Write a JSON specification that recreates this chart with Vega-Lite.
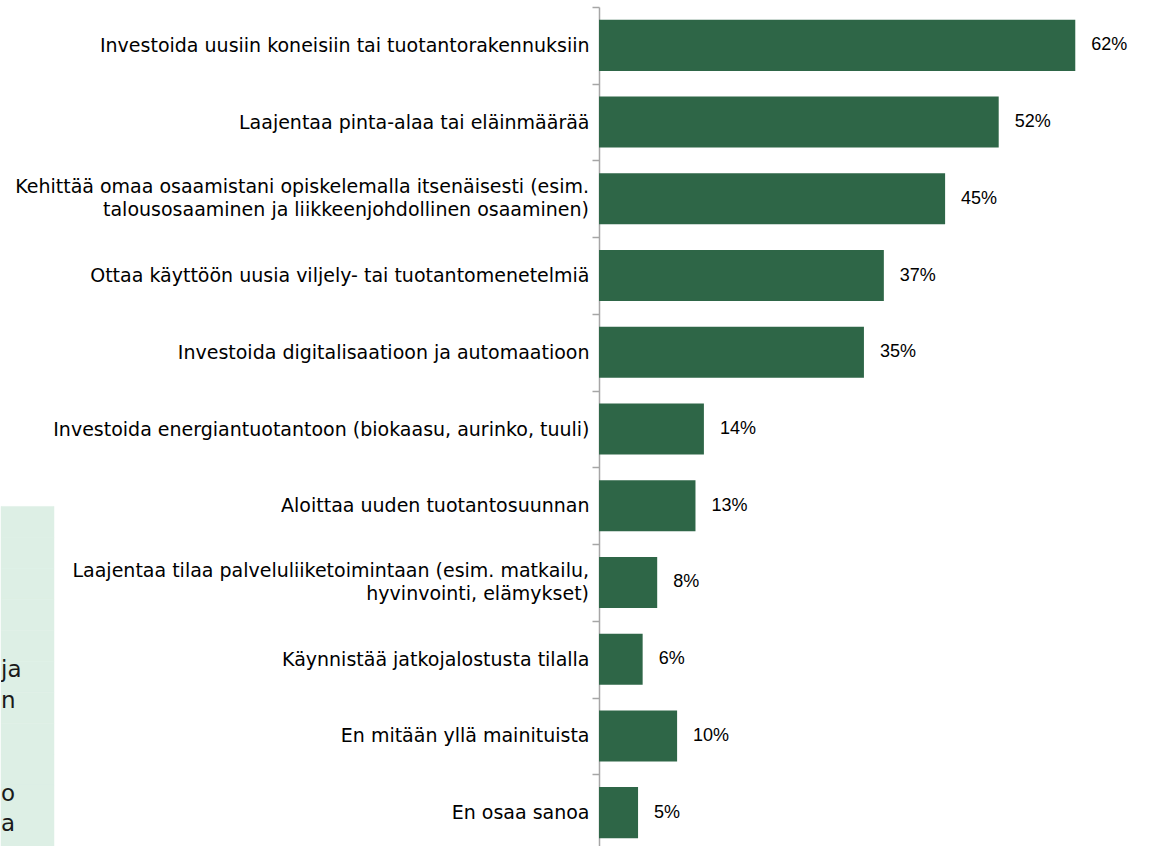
{
  "$schema": "https://vega.github.io/schema/vega-lite/v6.json",
  "padding": {"left": 0, "top": -2, "right": 5, "bottom": 0},
  "background": "white",
  "bounds": "flush",
  "spacing": 545,
  "config": {"view": {"stroke": null}},
  "datasets": {
    "box": [
      {"line": 17, "text": ""},
      {"line": 18, "text": ""},
      {"line": 19, "text": ""},
      {"line": 20, "text": ""},
      {"line": 21, "text": ""},
      {"line": 22, "text": "\u00a0ja"},
      {"line": 23, "text": "n"},
      {"line": 24, "text": ""},
      {"line": 25, "text": ""},
      {"line": 26, "text": "o"},
      {"line": 27, "text": "a"}
    ],
    "bars": [
      {"label": "Investoida uusiin koneisiin tai tuotantorakennuksiin", "value": 0.622},
      {"label": "Laajentaa pinta-alaa tai eläinmäärää", "value": 0.522},
      {"label": "Kehittää omaa osaamistani opiskelemalla itsenäisesti (esim.|talousosaaminen ja liikkeenjohdollinen osaaminen)", "value": 0.452},
      {"label": "Ottaa käyttöön uusia viljely- tai tuotantomenetelmiä", "value": 0.372},
      {"label": "Investoida digitalisaatioon ja automaatioon", "value": 0.346},
      {"label": "Investoida energiantuotantoon (biokaasu, aurinko, tuuli)", "value": 0.137},
      {"label": "Aloittaa uuden tuotantosuunnan", "value": 0.126},
      {"label": "Laajentaa tilaa palveluliiketoimintaan (esim. matkailu,|hyvinvointi, elämykset)", "value": 0.076},
      {"label": "Käynnistää jatkojalostusta tilalla", "value": 0.057},
      {"label": "En mitään yllä mainituista", "value": 0.102},
      {"label": "En osaa sanoa", "value": 0.051}
    ]
  },
  "hconcat": [
    {
      "width": 53,
      "height": 844,
      "data": {"name": "box"},
      "encoding": {
        "y": {
          "field": "line",
          "type": "ordinal",
          "scale": {"domain": [1,2,3,4,5,6,7,8,9,10,11,12,13,14,15,16,17,18,19,20,21,22,23,24,25,26,27], "paddingInner": 0, "paddingOuter": 0.13},
          "axis": null
        }
      },
      "layer": [
        {"mark": {"type": "rect", "color": "#ddefe5", "stroke": "#ddefe5", "strokeWidth": 0.5}},
        {
          "mark": {"type": "text", "align": "left", "baseline": "middle", "dx": -26.5, "dy": -7, "font": "DejaVu Sans", "fontSize": 23, "color": "#1a1a1a", "clip": true},
          "encoding": {"text": {"field": "text"}}
        }
      ]
    },
    {
      "width": 536,
      "height": 844,
      "data": {"name": "bars"},
      "encoding": {
        "y": {
          "field": "label",
          "type": "nominal",
          "sort": null,
          "scale": {"paddingInner": 0, "paddingOuter": 0},
          "axis": {
            "title": null,
            "labelExpr": "indexof(datum.label, '|') >= 0 ? '' : datum.label",
            "labelFont": "DejaVu Sans",
            "labelFontSize": 19,
            "labelColor": "#000000",
            "labelPadding": 3,
            "labelLimit": 700,
            "tickBand": "extent",
            "tickSize": 7,
            "tickColor": "#a6a6a6",
            "tickWidth": 1.5,
            "domainColor": "#a6a6a6",
            "domainWidth": 1.5,
            "grid": false
          }
        },
        "x": {
          "field": "value",
          "type": "quantitative",
          "scale": {"domain": [0, 0.7], "nice": false, "zero": true},
          "axis": null
        }
      },
      "layer": [
        {"mark": {"type": "bar", "height": {"band": 0.665}, "color": "#2e6647"}},
        {
          "mark": {"type": "text", "align": "left", "baseline": "middle", "dx": 16, "font": "Liberation Sans", "fontSize": 18, "color": "#000000"},
          "encoding": {"text": {"field": "value", "type": "quantitative", "format": ".0%"}}
        },
        {
          "transform": [{"filter": "indexof(datum.label, '|') >= 0"}],
          "mark": {"type": "text", "align": "right", "baseline": "middle", "dx": -10, "dy": -11.5, "lineBreak": "|", "lineHeight": 23, "font": "DejaVu Sans", "fontSize": 19, "color": "#000000"},
          "encoding": {
            "x": {"datum": 0},
            "text": {"field": "label"}
          }
        }
      ]
    }
  ]
}
